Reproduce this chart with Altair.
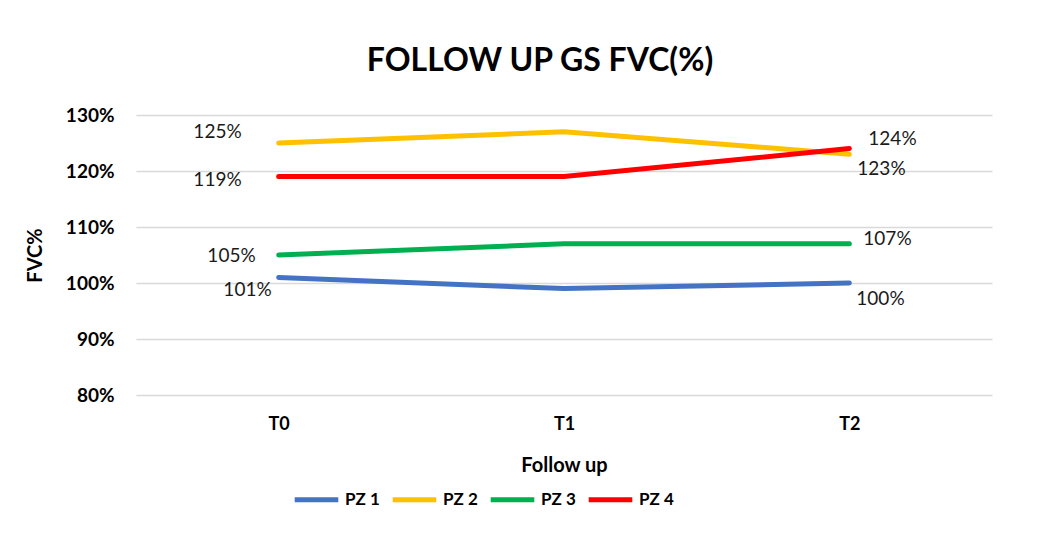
import altair as alt
import pandas as pd

followup = ["T0", "T1", "T2"]
series = ["PZ 1", "PZ 2", "PZ 3", "PZ 4"]
pz1 = [1.01, 0.99, 1.00]
pz2 = [1.25, 1.27, 1.23]
pz3 = [1.05, 1.07, 1.07]
pz4 = [1.19, 1.19, 1.24]
colors = ["#4472C4", "#FFC000", "#00B050", "#FF0000"]
y_ticks = [0.8, 0.9, 1.0, 1.1, 1.2, 1.3]

rows = []
for name, vals in zip(series, [pz1, pz2, pz3, pz4]):
    for t, v in zip(followup, vals):
        rows.append({"Follow up": t, "series": name, "value": v})
df = pd.DataFrame(rows)

FONT = "Lato"

x_enc = alt.X("Follow up:N", sort=followup, scale=alt.Scale(paddingOuter=0.5),
              axis=alt.Axis(title="Follow up", labelAngle=0, labelFontSize=18,
                            labelFontWeight="bold", labelColor="black",
                            labelPadding=20, ticks=False, domain=False, grid=False,
                            titleFontSize=20, titleFontWeight="bold",
                            titlePadding=22, titleColor="black"))
y_enc = alt.Y("value:Q", scale=alt.Scale(domain=[0.8, 1.3], nice=False, zero=False),
              axis=alt.Axis(title="FVC%", format=".0%", values=y_ticks,
                            labelFontSize=19, labelFontWeight="bold", labelColor="black",
                            labelPadding=22, ticks=False, domain=False,
                            gridColor="#d9d9d9", gridWidth=1.5,
                            titleFontSize=20, titleFontWeight="bold", titleColor="black",
                            titleX=-91))

color_enc = alt.Color("series:N", sort=series,
                      scale=alt.Scale(domain=series, range=colors),
                      legend=alt.Legend(title=None, orient="none", direction="horizontal",
                                        legendX=156, legendY=360,
                                        symbolType="stroke", symbolSize=1900,
                                        symbolStrokeWidth=5, labelFontSize=17,
                                        labelFontWeight="bold", labelColor="black",
                                        columnPadding=2, labelOffset=4))

lines = alt.Chart(df).mark_line(strokeWidth=5, strokeCap="round").encode(
    x=x_enc, y=y_enc, color=color_enc)

# label offsets: (series, time, align, dx, dy)
label_specs = [
    ("PZ 2", "T0", "right", -37, -11),
    ("PZ 4", "T0", "right", -37, 3),
    ("PZ 3", "T0", "right", -23, 1),
    ("PZ 1", "T0", "right", -7, 13),
    ("PZ 4", "T2", "left", 19, -10),
    ("PZ 2", "T2", "left", 8, 15),
    ("PZ 3", "T2", "left", 14, -5),
    ("PZ 1", "T2", "left", 7, 16),
]
layers = [lines]
for s, t, al, dx, dy in label_specs:
    sub = df[(df["series"] == s) & (df["Follow up"] == t)]
    layers.append(
        alt.Chart(sub).mark_text(align=al, baseline="middle", dx=dx, dy=dy,
                                 fontSize=19, color="#1a1a1a", font=FONT).encode(
            x=alt.X("Follow up:N", sort=followup),
            y="value:Q",
            text=alt.Text("value:Q", format=".0%"))
    )

chart = alt.layer(*layers).properties(
    width=856, height=280,
    title=alt.TitleParams("FOLLOW UP GS FVC(%)", fontSize=32, fontWeight="bold",
                          color="black", offset=28, dx=-24, font=FONT),
    autosize=alt.AutoSizeParams(type="none"),
    padding={"left": 128, "top": 107, "right": 48, "bottom": 130},
).configure(font=FONT).configure_view(stroke=None)

chart.save("out.html", embed_options={"renderer": "svg", "actions": False})
